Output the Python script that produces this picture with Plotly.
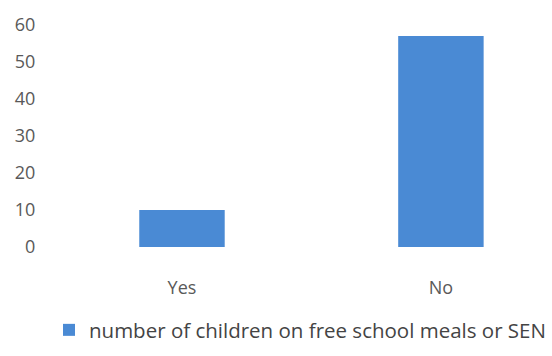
import plotly.graph_objects as go

categories = ["Yes", "No"]
values = [10, 57]
series_name = "number of children on free school meals or SEN"
y_ticks = [0, 10, 20, 30, 40, 50, 60]

fig = go.Figure()
fig.add_trace(go.Bar(
    x=categories, y=values, name=series_name,
    marker=dict(color="#4a8ad4", line=dict(width=0)),
    width=0.33,
    showlegend=True,
))

fig.update_layout(
    width=552, height=356,
    margin=dict(l=52, r=0, t=25, b=109),
    paper_bgcolor="white", plot_bgcolor="white",
    font=dict(family="Open Sans, sans-serif", color="#595959", size=16),
    xaxis=dict(type="category", range=[-0.502, 1.429], showgrid=False,
               showline=False, zeroline=False,
               ticks="outside", ticklen=24, tickcolor="rgba(0,0,0,0)",
               tickfont=dict(size=18)),
    yaxis=dict(range=[0, 60], tickvals=y_ticks, showgrid=False,
               showline=False, zeroline=False, ticks="outside", ticklen=12,
               tickcolor="rgba(0,0,0,0)", tickfont=dict(size=18)),
    legend=dict(orientation="h", x=-0.006, xanchor="left", y=-0.374, yanchor="middle",
                font=dict(size=20.5, color="#444444"), itemwidth=30),
    showlegend=True,
)

fig.write_html("out.html")
